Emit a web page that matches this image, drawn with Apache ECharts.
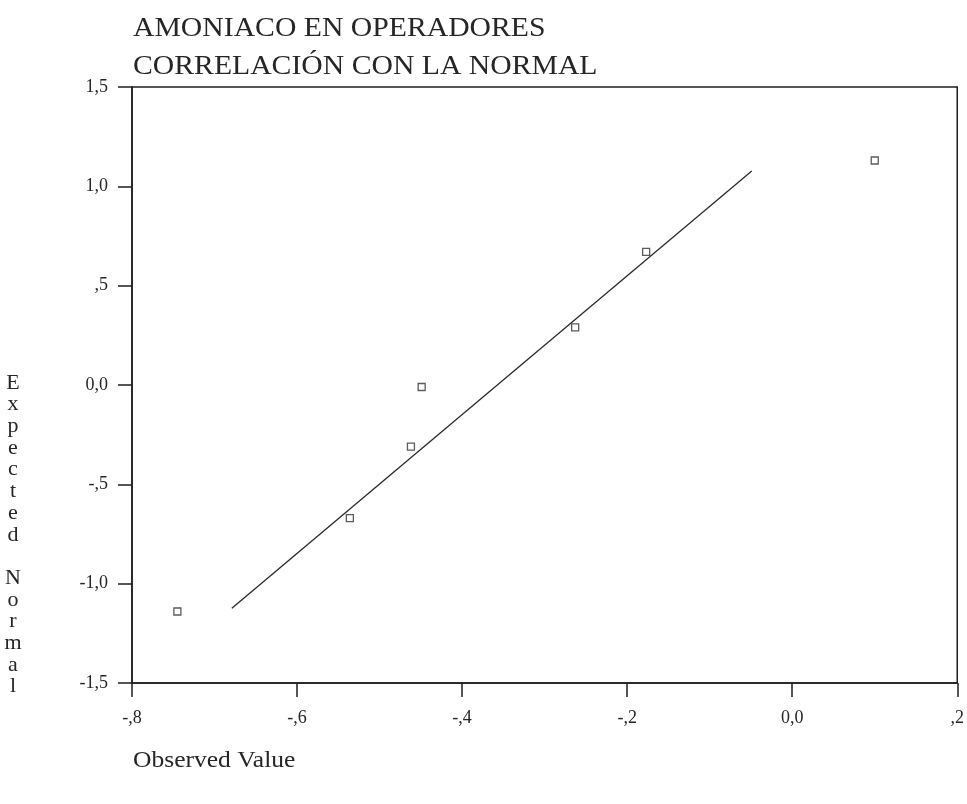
<!DOCTYPE html>
<html>
<head>
<meta charset="utf-8">
<script src="https://cdn.jsdelivr.net/npm/echarts@6/dist/echarts.min.js"></script>
<style>
  html, body { margin: 0; padding: 0; background: #fff; }
  #chart { width: 967px; height: 804px; }
</style>
</head>
<body>
<div id="chart"></div>
<script>
// Observed values and their expected normal scores
const observed = [-0.745, -0.536, -0.462, -0.449, -0.263, -0.177, 0.100];
const expectedNormal = [-1.14, -0.67, -0.31, -0.01, 0.29, 0.67, 1.13];

// Reference line end points
const lineX = [-0.679, -0.049];
const lineY = [-1.124, 1.077];

// Axis ticks and their printed labels
const xTicks = [-0.8, -0.6, -0.4, -0.2, 0.0, 0.2];
const xTickLabels = ['-,8', '-,6', '-,4', '-,2', '0,0', ',2'];
const yTicks = [-1.5, -1.0, -0.5, 0.0, 0.5, 1.0, 1.5];
const yTickLabels = ['-1,5', '-1,0', '-,5', '0,0', ',5', '1,0', '1,5'];

const titleLines = ['AMONIACO EN OPERADORES', 'CORRELACIÓN CON LA NORMAL'];
const xName = 'Observed Value';
const yName = 'Expected Normal';

const serif = '"Liberation Serif", "DejaVu Serif", serif';
const ink = '#1e1e1e';
const textInk = '#262626';

function labelFor(ticks, labels) {
  return function (v) {
    for (let i = 0; i < ticks.length; i++) {
      if (Math.abs(ticks[i] - v) < 1e-6) return labels[i];
    }
    return '';
  };
}

const chart = echarts.init(document.getElementById('chart'), null, { renderer: 'canvas' });

chart.setOption({
  animation: false,
  backgroundColor: '#ffffff',
  grid: {
    left: 132, right: 9, top: 87, bottom: 121,
    show: true, borderColor: ink, borderWidth: 1.5, backgroundColor: 'transparent'
  },
  xAxis: {
    type: 'value',
    min: -0.8, max: 0.2, interval: 0.2,
    axisLine: { show: true, onZero: false, lineStyle: { color: ink, width: 1.5 } },
    axisTick: { show: true, length: 14, inside: false, lineStyle: { color: ink, width: 1.5 } },
    splitLine: { show: false },
    axisLabel: {
      margin: 26,
      fontFamily: serif, fontSize: 18, color: textInk,
      formatter: labelFor(xTicks, xTickLabels)
    }
  },
  yAxis: {
    type: 'value',
    min: -1.5, max: 1.5, interval: 0.5,
    axisLine: { show: true, onZero: false, lineStyle: { color: ink, width: 1.5 } },
    axisTick: { show: true, length: 14, inside: false, lineStyle: { color: ink, width: 1.5 } },
    splitLine: { show: false },
    axisLabel: {
      margin: 24,
      fontFamily: serif, fontSize: 18, color: textInk,
      formatter: labelFor(yTicks, yTickLabels)
    }
  },
  graphic: [
    {
      type: 'text', x: 133, y: 10, scaleX: 1.1,
      style: {
        text: titleLines.join('\n'),
        font: '27px ' + serif, fill: textInk, lineHeight: 38,
        align: 'left', verticalAlign: 'top'
      }
    },
    {
      type: 'text', x: 133, y: 749, scaleX: 1.11,
      style: { text: xName, font: '23px ' + serif, fill: textInk, align: 'left', verticalAlign: 'top' }
    },
    {
      type: 'text', x: 13, y: 372,
      style: {
        text: yName.split('').join('\n'),
        font: '22px ' + serif, fill: textInk, lineHeight: 21.7,
        align: 'center', verticalAlign: 'top'
      }
    }
  ],
  series: [
    {
      type: 'line',
      data: lineX.map((x, i) => [x, lineY[i]]),
      showSymbol: false,
      symbol: 'none',
      lineStyle: { color: '#2a2a2a', width: 1.3 },
      z: 2
    },
    {
      type: 'scatter',
      data: observed.map((x, i) => [x, expectedNormal[i]]),
      symbol: 'rect',
      symbolSize: 7,
      itemStyle: { color: '#ffffff', borderColor: '#333', borderWidth: 1.3 },
      z: 3
    }
  ]
});
</script>
</body>
</html>
